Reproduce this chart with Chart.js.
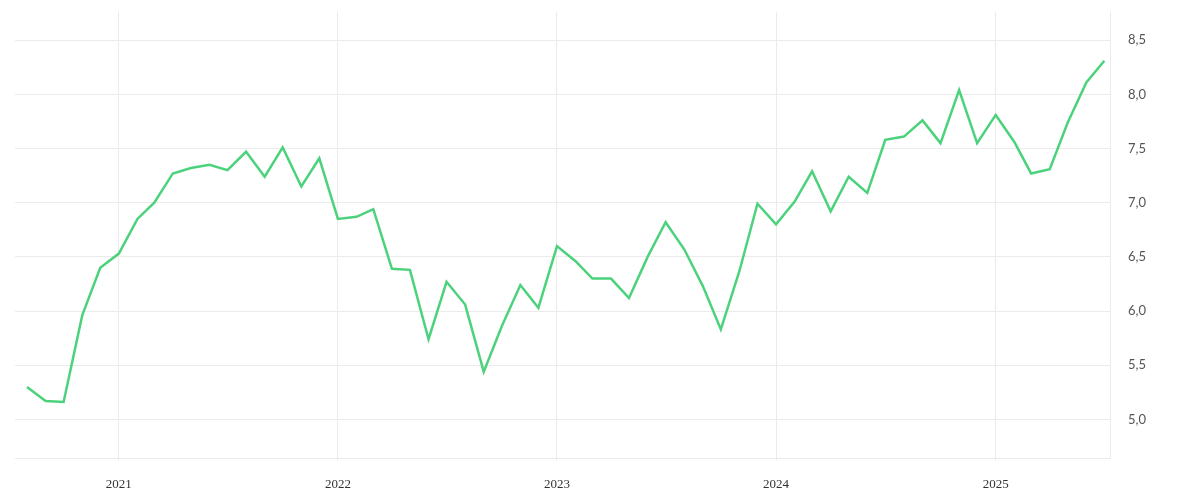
<!DOCTYPE html>
<html>
<head>
<meta charset="utf-8">
<script src="https://cdn.jsdelivr.net/npm/chart.js@4/dist/chart.umd.min.js"></script>
<style>
  html, body { margin: 0; padding: 0; background: #ffffff; }
  #wrap { width: 1200px; height: 500px; }
</style>
</head>
<body>
<div id="wrap"><canvas id="c" width="1200" height="500"></canvas></div>
<script>
// Monthly periods (YYYY-MM), first of month
const months = [
  "2020-08","2020-09","2020-10","2020-11","2020-12",
  "2021-01","2021-02","2021-03","2021-04","2021-05","2021-06","2021-07","2021-08","2021-09","2021-10","2021-11","2021-12",
  "2022-01","2022-02","2022-03","2022-04","2022-05","2022-06","2022-07","2022-08","2022-09","2022-10","2022-11","2022-12",
  "2023-01","2023-02","2023-03","2023-04","2023-05","2023-06","2023-07","2023-08","2023-09","2023-10","2023-11","2023-12",
  "2024-01","2024-02","2024-03","2024-04","2024-05","2024-06","2024-07","2024-08","2024-09","2024-10","2024-11","2024-12",
  "2025-01","2025-02","2025-03","2025-04","2025-05","2025-06","2025-07"
];
const values = [
  5.30, 5.17, 5.16, 5.96, 6.40,
  6.53, 6.85, 7.00, 7.27, 7.32, 7.35, 7.30, 7.47, 7.24, 7.51, 7.15, 7.41,
  6.85, 6.87, 6.94, 6.39, 6.38, 5.74, 6.27, 6.06, 5.44, 5.86, 6.24, 6.03,
  6.60, 6.46, 6.30, 6.30, 6.12, 6.50, 6.82, 6.57, 6.23, 5.83, 6.37, 6.99,
  6.80, 7.01, 7.29, 6.92, 7.24, 7.09, 7.58, 7.61, 7.76, 7.55, 8.04, 7.55,
  7.81, 7.56, 7.27, 7.31, 7.74, 8.11, 8.31
];
const yearTicks = [2021, 2022, 2023, 2024, 2025];
const yTicks = [5.0, 5.5, 6.0, 6.5, 7.0, 7.5, 8.0, 8.5];

const toTime = s => { const [y, m] = s.split("-").map(Number); return Date.UTC(y, m - 1, 1); };
const points = months.map((m, i) => ({ x: toTime(m), y: values[i] }));

const gridColor = "#ebebeb";

new Chart(document.getElementById("c"), {
  type: "line",
  data: {
    datasets: [{
      data: points,
      borderColor: "#4cd27c",
      borderWidth: 2.5,
      pointRadius: 0,
      tension: 0,
      fill: false
    }]
  },
  options: {
    responsive: false,
    animation: false,
    layout: { padding: { left: 15, right: 52, top: 12, bottom: -8 } },
    plugins: { legend: { display: false }, tooltip: { enabled: false } },
    scales: {
      x: {
        type: "linear",
        min: Date.UTC(2020, 6, 12),
        max: Date.UTC(2025, 6, 12),
        afterBuildTicks: axis => { axis.ticks = yearTicks.map(y => ({ value: Date.UTC(y, 0, 1) })); },
        ticks: {
          callback: v => String(new Date(v).getUTCFullYear()),
          color: "#333333",
          font: { family: "'Liberation Serif', serif", size: 13 },
          padding: 16,
          maxRotation: 0,
          autoSkip: false
        },
        grid: { color: gridColor, drawTicks: true, tickLength: 2 },
        border: { display: true, color: gridColor }
      },
      y: {
        position: "right",
        min: 4.64,
        max: 8.76,
        afterBuildTicks: axis => { axis.ticks = yTicks.map(v => ({ value: v })); },
        ticks: {
          callback: v => Number(v).toFixed(1).replace(".", ","),
          color: "#555555",
          font: { family: "Lato, sans-serif", size: 13 },
          padding: 2
        },
        grid: { color: gridColor, drawTicks: true, tickLength: 15, tickColor: "rgba(0,0,0,0)" },
        border: { display: true, color: gridColor }
      }
    }
  }
});
</script>
</body>
</html>
